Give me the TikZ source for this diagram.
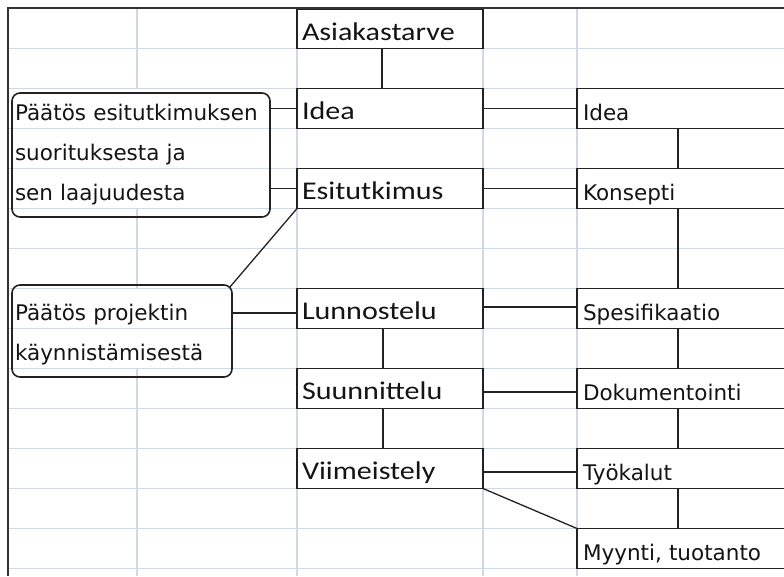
\documentclass[tikz,border=0pt]{standalone}
\usepackage{fontspec}
\newfontfamily\stepfont{Carlito}[FakeStretch=1.18]
\newfontfamily\notefont{DejaVu Sans}
\definecolor{gridblue}{RGB}{208,215,229}
\definecolor{frame}{RGB}{51,51,51}
\definecolor{boxline}{RGB}{34,34,34}
\definecolor{ink}{RGB}{20,20,20}
\begin{document}
\begin{tikzpicture}[x=1pt,y=-1pt,
  gridline/.style={draw=gridblue,line width=1.3pt},
  phase/.style={draw=boxline,line width=1.8pt,fill=white,rectangle,
    anchor=north west,outer sep=0pt,minimum width=186pt,minimum height=40pt,
    inner xsep=5pt,inner ysep=0pt,text width=176pt,align=left,
    text height=22pt,text depth=0pt,text=ink,
    font=\stepfont\fontsize{25.5}{30}\selectfont},
  deliv/.style={draw=boxline,line width=1.8pt,fill=white,rectangle,
    anchor=north west,outer sep=0pt,minimum width=233pt,minimum height=40pt,
    inner xsep=6pt,inner ysep=0pt,text width=221pt,align=left,
    text height=23pt,text depth=0pt,text=ink,
    font=\notefont\fontsize{21.5}{26}\selectfont},
  decision/.style={draw=boxline,line width=1.6pt,rounded corners=8pt,
    anchor=north west,outer sep=0pt,inner xsep=3pt,inner ysep=0pt,
    align=left,text=ink,font=\notefont\fontsize{21.5}{40}\selectfont},
  link/.style={draw=boxline,line width=1.7pt},
  slant/.style={draw=boxline,line width=1.3pt}
]
\useasboundingbox (0,0) rectangle (784,576);
\clip (0,0) rectangle (784,576);

% spreadsheet grid
\foreach \k in {0,...,13}
  \draw[gridline] (8,{48.5+40*\k}) -- (784,{48.5+40*\k});
\draw[gridline] (137,8) -- (137,88.5) (137,208.5) -- (137,288.5) (137,368.5) -- (137,576);
\foreach \gx in {297,483,577}
  \draw[gridline] (\gx,8) -- (\gx,576);
\draw[draw=frame,line width=1.4pt] (784,8) -- (8,8) -- (8,576);

% decision notes
\node[decision,minimum width=258pt,minimum height=124pt,text width=252pt] (callA) at (12,93)
  {\rule{0pt}{18pt}Päätös esitutkimuksen\\suorituksesta ja\\sen laajuudesta\rule[-8pt]{0pt}{8pt}};
\node[decision,minimum width=220pt,minimum height=92pt,text width=214pt] (callB) at (12,285)
  {\rule{0pt}{26pt}Päätös projektin\\käynnistämisestä\rule[-8pt]{0pt}{8pt}};

% process phases
\node[phase,minimum height=39pt] (asiak) at (297,9.5) {Asiakastarve};
\node[phase] (ideaL) at (297,88.5) {Idea};
\node[phase] (esit) at (297,168.5) {Esitutkimus};
\node[phase] (lunn) at (297,288.5) {Lunnostelu};
\node[phase] (suun) at (297,368.5) {Suunnittelu};
\node[phase] (viim) at (297,448.5) {Viimeistely};

% product stages
\node[deliv] (ideaR) at (577,88.5) {Idea};
\node[deliv] (kons) at (577,168.5) {Konsepti};
\node[deliv] (spec) at (577,288.5) {Spesifikaatio};
\node[deliv] (doku) at (577,368.5) {Dokumentointi};
\node[deliv] (tyok) at (577,448.5) {Työkalut};
\node[deliv] (myyn) at (577,528.5) {Myynti, tuotanto};

% vertical chains
\draw[link] ([xshift=-8pt]asiak.south) -- ([xshift=-8pt]ideaL.north);
\draw[link] ([xshift=-7pt]lunn.south) -- ([xshift=-7pt]suun.north);
\draw[link] ([xshift=-7pt]suun.south) -- ([xshift=-7pt]viim.north);
\draw[link] ([xshift=-15.5pt]ideaR.south) -- ([xshift=-15.5pt]kons.north);
\draw[link] ([xshift=-15.5pt]kons.south) -- ([xshift=-15.5pt]spec.north);
\draw[link] ([xshift=-15.5pt]spec.south) -- ([xshift=-15.5pt]doku.north);
\draw[link] ([xshift=-15.5pt]doku.south) -- ([xshift=-15.5pt]tyok.north);
\draw[link] ([xshift=-15.5pt]tyok.south) -- ([xshift=-15.5pt]myyn.north);

% phase to stage links
\draw[link] (ideaL.east) -- (ideaR.west);
\draw[link] (esit.east) -- (kons.west);
\draw[link] ([yshift=1.5pt]lunn.east) -- ([yshift=1.5pt]spec.west);
\draw[link] ([yshift=-3.5pt]suun.east) -- ([yshift=-3.5pt]doku.west);
\draw[link] ([yshift=-3.5pt]viim.east) -- ([yshift=-3.5pt]tyok.west);
\draw[slant] (viim.south east) -- (myyn.north west);

% decision links
\draw[link] (callA.east |- ideaL.west) -- (ideaL.west);
\draw[link] (callA.east |- esit.west) -- (esit.west);
\coordinate (lunnIn) at ([yshift=-4.5pt]lunn.west);
\draw[link] (callB.east |- lunnIn) -- (lunnIn);
\draw[slant] (esit.south west) -- ([shift={(-2.3,2.3)}]callB.north east);
\end{tikzpicture}
\end{document}
